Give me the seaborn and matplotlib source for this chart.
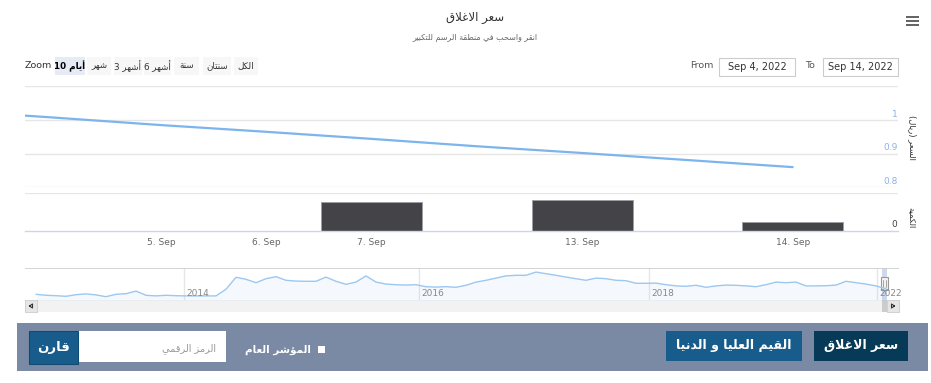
import seaborn as sns
import matplotlib.pyplot as plt
from matplotlib.patches import Rectangle

# main chart (ordinal day slots, like the Highcharts stock axis)
slots = [-1, 0, 1, 2, 3, 4, 5, 6, 7]
close_price = [1.028, 1.007, 0.985, 0.965, 0.944, 0.922, 0.902, 0.881, 0.860]
volume = [0, 0, 0, 0, 7670, 0, 8210, 0, 2330]
tick_slots = [1, 2, 3, 5, 7]
tick_labels = ["5. Sep", "6. Sep", "7. Sep", "13. Sep", "14. Sep"]
price_ticks = [0.8, 0.9, 1.0]
price_tick_labels = ["0.8", "0.9", "1"]

# navigator (whole history, sampled evenly along the ordinal axis)
nav_close = [
    0.58, 0.53, 0.51, 0.48, 0.56, 0.60, 0.55, 0.46, 0.58, 0.61,
    0.74, 0.53, 0.50, 0.53, 0.51, 0.50, 0.50, 0.50, 0.50, 0.83,
    1.43, 1.33, 1.16, 1.36, 1.46, 1.28, 1.24, 1.23, 1.23, 1.44,
    1.23, 1.08, 1.19, 1.50, 1.19, 1.09, 1.06, 1.04, 1.06, 0.96,
    0.94, 0.96, 0.93, 1.03, 1.19, 1.28, 1.39, 1.50, 1.53, 1.53,
    1.69, 1.61, 1.53, 1.44, 1.36, 1.28, 1.39, 1.36, 1.28, 1.26,
    1.13, 1.13, 1.14, 1.06, 1.00, 0.98, 1.03, 0.93, 1.00, 1.04,
    1.03, 1.00, 0.96, 1.06, 1.19, 1.16, 1.19, 1.00, 1.00, 1.01,
    1.04, 1.23, 1.16, 1.09, 1.00, 0.86,
]
nav_year_pos = [14.8, 38.3, 61.3, 84.1]
nav_years = ["2014", "2016", "2018", "2022"]

title = "سعر الاغلاق"
subtitle = "انقر واسحب في منطقة الرسم للتكبير"
price_axis_title = "السعر (ريال)"
volume_axis_title = "الكمية"
range_buttons = [("10", "أيام"), ("", "شهر"), ("3", "أشهر"), ("6", "أشهر"),
                 ("", "سنة"), ("", "سنتان"), ("", "الكل")]
date_from = "Sep 4, 2022"
date_to = "Sep 14, 2022"
btn_close = "سعر الاغلاق"
btn_highlow = "القيم العليا و الدنيا"
index_label = "المؤشر العام"
symbol_placeholder = "الرمز الرقمي"
btn_compare = "قارن"


# matplotlib has no Arabic shaping, so map letters to presentation forms
codes = list(range(0x621, 0x63B)) + list(range(0x641, 0x64B))
nforms = [1, 2, 2, 2, 2, 4, 2, 4, 2, 4, 4, 4, 4, 4, 2, 2, 2, 2, 4, 4, 4, 4, 4, 4,
          4, 4, 4, 4, 4, 4, 4, 4, 4, 2, 2, 4]
forms = {}
start = 0xFE80
for cp, n in zip(codes, nforms):
    forms[chr(cp)] = [chr(start + i) for i in range(n)]
    start += n
lam_alef = {"\u0622": 0xFEF5, "\u0623": 0xFEF7, "\u0625": 0xFEF9, "\u0627": 0xFEFB}


def ar(text):
    out = []
    i = 0
    while i < len(text):
        c = text[i]
        prev = text[i - 1] if i > 0 else ""
        joins_prev = prev in forms and len(forms[prev]) == 4
        if c == "\u0644" and i + 1 < len(text) and text[i + 1] in lam_alef:
            out.append(chr(lam_alef[text[i + 1]] + int(joins_prev)))
            i += 2
            continue
        if c in forms:
            f = forms[c]
            nxt = text[i + 1] if i + 1 < len(text) else ""
            joins_next = len(f) == 4 and nxt in forms
            if len(f) == 1:
                idx = 0
            else:
                idx = [[0, 2], [1, 3]][joins_prev][joins_next]
            out.append(f[idx])
        else:
            out.append(c)
        i += 1
    vis = "".join(reversed(out))
    return vis.translate(str.maketrans("()", ")("))


sns.set_style("white")
plt.rcParams["font.family"] = ["DejaVu Sans"]

W, H = 931, 383
fig = plt.figure(figsize=(W / 100, H / 100), dpi=100)


def px_box(x0, y0, x1, y1):
    return [x0 / W, 1 - y1 / H, (x1 - x0) / W, (y1 - y0) / H]


# canvas in pixel coordinates for the UI chrome
cv = fig.add_axes([0, 0, 1, 1], zorder=0)
cv.set_xlim(0, W)
cv.set_ylim(H, 0)
cv.axis("off")

cv.text(475, 17, ar(title), ha="center", va="center", fontsize=8.5, color="#333333")
cv.text(475, 38, ar(subtitle), ha="center", va="center", fontsize=5.8, color="#666666")
for yy in [15.5, 19.5, 23.5]:
    cv.add_patch(Rectangle((906, yy), 13, 2, color="#666666", lw=0))

# range selector
cv.text(25, 66, "Zoom", ha="left", va="center", fontsize=6.8, color="#333333")
btn_x = [(55, 85), (87, 111), (114, 142), (144, 171), (174, 199), (203, 231), (234, 258)]
for k, ((num, word), (x0, x1)) in enumerate(zip(range_buttons, btn_x)):
    sel = k == 0
    cv.add_patch(Rectangle((x0, 57), x1 - x0, 18, fc="#e6ebf5" if sel else "#f7f7f7", lw=0))
    label = (num + " " + ar(word)) if num else ar(word)
    cv.text((x0 + x1) / 2, 66, label, ha="center", va="center", fontsize=6.3,
            color="#000000" if sel else "#333333", fontweight="bold" if sel else "normal")

cv.text(690, 66, "From", ha="left", va="center", fontsize=6.8, color="#555555")
cv.add_patch(Rectangle((719, 58), 76, 18, fc="white", ec="#cccccc", lw=0.8))
cv.text(757, 66.5, date_from, ha="center", va="center", fontsize=7, color="#333333")
cv.text(805, 66, "To", ha="left", va="center", fontsize=6.8, color="#555555")
cv.add_patch(Rectangle((823, 58), 75, 18, fc="white", ec="#cccccc", lw=0.8))
cv.text(860.5, 66.5, date_to, ha="center", va="center", fontsize=7, color="#333333")

# axis titles on the right
cv.text(912, 137, ar(price_axis_title), ha="center", va="center", rotation=-90,
        fontsize=6, color="#333333")
cv.text(912, 218, ar(volume_axis_title), ha="center", va="center", rotation=-90,
        fontsize=6, color="#333333")

# scrollbar + navigator handles
cv.add_patch(Rectangle((25, 300), 874, 12, fc="#f2f2f2", lw=0))
cv.add_patch(Rectangle((25, 300), 12, 12, fc="#e6e6e6", ec="#cccccc", lw=0.6))
cv.add_patch(Rectangle((887, 300), 12, 12, fc="#e6e6e6", ec="#cccccc", lw=0.6))
cv.plot([29.5, 32.5, 32.5, 29.5], [306, 304, 308, 306], color="#333333", lw=0.8)
cv.plot([894.5, 891.5, 891.5, 894.5], [306, 304, 308, 306], color="#333333", lw=0.8)
cv.add_patch(Rectangle((882, 268), 5, 32, fc="#667fc2", alpha=0.3, lw=0))
cv.add_patch(Rectangle((882, 300), 5, 12, fc="#cccccc", lw=0))
cv.add_patch(Rectangle((880.5, 277), 7, 13, fc="#f2f2f2", ec="#999999", lw=0.8, zorder=5))
cv.plot([883, 883], [280, 287], color="#999999", lw=0.6, zorder=6)
cv.plot([885.5, 885.5], [280, 287], color="#999999", lw=0.6, zorder=6)

# bottom control panel
cv.add_patch(Rectangle((17, 323), 911, 48, fc="#7a8aa5", lw=0))
cv.add_patch(Rectangle((814, 331), 94, 30, fc="#073a57", lw=0))
cv.text(861, 346, ar(btn_close), ha="center", va="center", fontsize=9,
        fontweight="bold", color="white")
cv.add_patch(Rectangle((666, 331), 136, 30, fc="#185c8b", lw=0))
cv.text(734, 346, ar(btn_highlow), ha="center", va="center", fontsize=9,
        fontweight="bold", color="white")
cv.add_patch(Rectangle((318, 346), 7, 7, fc="white", lw=0))
cv.text(311, 349.5, ar(index_label), ha="right", va="center", fontsize=7.5,
        fontweight="bold", color="white")
cv.add_patch(Rectangle((78, 331), 148, 31, fc="white", lw=0))
cv.text(216, 349, ar(symbol_placeholder), ha="right", va="center", fontsize=7,
        color="#999999")
cv.add_patch(Rectangle((29, 331), 49, 33, fc="#185c8b", ec="#0f4a73", lw=0.8))
cv.text(53.5, 347, ar(btn_compare), ha="center", va="center", fontsize=9.5,
        fontweight="bold", color="white")

grid_c = "#e6e6e6"
xlim = (-0.29, 8.0)

# price pane
ax_p = fig.add_axes(px_box(25, 86.4, 898, 187.3), zorder=2)
ax_p.patch.set_alpha(0)
for v in [0.8, 0.9, 1.0, 1.1]:
    ax_p.axhline(v, color=grid_c, lw=1, zorder=0)
sns.lineplot(x=slots, y=close_price, ax=ax_p, color="#7cb5ec", lw=1.6)
ax_p.set_xlim(*xlim)
ax_p.set_ylim(0.8, 1.1)
ax_p.set_xticks([])
ax_p.set_yticks([])
for s in ax_p.spines.values():
    s.set_visible(False)
for v, lab in zip(price_ticks, price_tick_labels):
    ax_p.annotate(lab, xy=(1, v), xycoords=("axes fraction", "data"), xytext=(-0.5, 1),
                  textcoords="offset points", ha="right", va="bottom",
                  fontsize=6.5, color="#8fb0e8")

# volume pane
ax_v = fig.add_axes(px_box(25, 193.3, 898, 230.7), zorder=2)
ax_v.patch.set_alpha(0)
ax_v.axhline(10000, color=grid_c, lw=1, zorder=0)
sns.barplot(x=slots, y=volume, ax=ax_v, native_scale=True, width=0.96,
            color="#434348", saturation=1, errorbar=None, edgecolor="#9d9da3", linewidth=0.7)
for p in ax_v.patches:
    if p.get_height() == 0:
        p.set_visible(False)
ax_v.set_xlim(*xlim)
ax_v.set_ylim(0, 10000)
ax_v.set_yticks([])
ax_v.set_xticks(tick_slots)
ax_v.set_xticklabels(tick_labels)
ax_v.tick_params(axis="x", length=0, pad=5, labelsize=6.5, labelcolor="#666666")
for k in ["top", "left", "right"]:
    ax_v.spines[k].set_visible(False)
ax_v.spines["bottom"].set_color("#ccd6eb")
ax_v.spines["bottom"].set_linewidth(1)
ax_v.annotate("0", xy=(1, 0), xycoords=("axes fraction", "data"), xytext=(-0.5, 1.5),
              textcoords="offset points", ha="right", va="bottom", fontsize=6.5,
              color="#444444")

# navigator
nav_idx = list(range(len(nav_close)))
ax_n = fig.add_axes(px_box(25, 268, 899, 300), zorder=1)
ax_n.patch.set_alpha(0)
sns.lineplot(x=nav_idx, y=nav_close, ax=ax_n, color="#9cc7f0", lw=1)
ax_n.fill_between(nav_idx, nav_close, 0, color="#7cb5ec", alpha=0.07, lw=0)
ax_n.set_xlim(-1.1, 86.3)
ax_n.set_ylim(0.295, 1.895)
ax_n.set_xticks([])
ax_n.set_yticks([])
for s in ax_n.spines.values():
    s.set_visible(False)
ax_n.axhline(1.895, color="#cccccc", lw=1.2)
for pos, yr in zip(nav_year_pos, nav_years):
    ax_n.axvline(pos, color=grid_c, lw=1, zorder=0)
    ax_n.annotate(yr, xy=(pos, 0), xycoords=("data", "axes fraction"), xytext=(1.5, 1.5),
                  textcoords="offset points", ha="left", va="bottom", fontsize=6.5,
                  color="#888888")

fig.savefig("out.png", dpi=100)
